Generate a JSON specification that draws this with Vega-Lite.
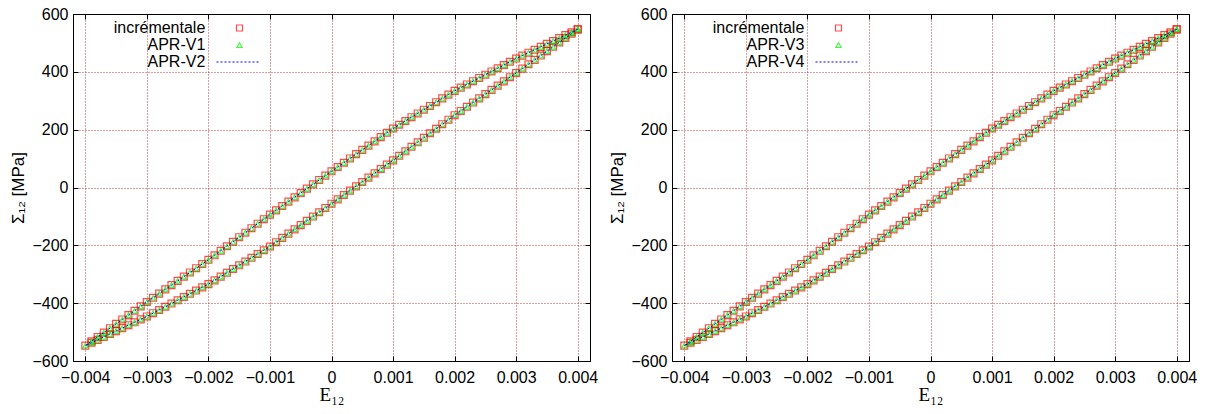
{
  "$schema": "https://vega.github.io/schema/vega-lite/v6.json",
  "padding": {"left": 9, "top": 5, "right": 5, "bottom": 0},
  "config": {
    "font": "Liberation Sans",
    "view": {"stroke": "black", "strokeWidth": 1},
    "axis": {
      "domainColor": "black", "tickColor": "black", "tickWidth": 1,
      "labelFont": "Liberation Sans", "labelFontSize": 16, "labelColor": "black",
      "titleFont": "Liberation Sans", "titleFontSize": 17, "titleColor": "black", "titleFontWeight": "normal",
      "gridColor": "#b82828", "gridDash": [1, 2], "gridOpacity": 0.9, "gridWidth": 1
    },
    "text": {"font": "Liberation Sans", "fontSize": 16, "color": "black"}
  },
  "datasets": {
    "one": [{}],
    "loop": [
      {"i":0,"e":0.004,"s":547},{"i":1,"e":0.0039,"s":536.9},{"i":2,"e":0.0038,"s":526.8},{"i":3,"e":0.0037,"s":516.7},{"i":4,"e":0.0036,"s":506.6},{"i":5,"e":0.0035,"s":496.5},{"i":6,"e":0.0034,"s":486.4},{"i":7,"e":0.0033,"s":476.3},{"i":8,"e":0.0032,"s":466.2},{"i":9,"e":0.0031,"s":456.1},
      {"i":10,"e":0.003,"s":446},{"i":11,"e":0.0029,"s":434.8},{"i":12,"e":0.0028,"s":423.6},{"i":13,"e":0.0027,"s":412.4},{"i":14,"e":0.0026,"s":401.2},{"i":15,"e":0.0025,"s":390},{"i":16,"e":0.0024,"s":378.8},{"i":17,"e":0.0023,"s":367.6},{"i":18,"e":0.0022,"s":356.4},{"i":19,"e":0.0021,"s":345.2},
      {"i":20,"e":0.002,"s":334},{"i":21,"e":0.0019,"s":321},{"i":22,"e":0.0018,"s":308},{"i":23,"e":0.0017,"s":295},{"i":24,"e":0.0016,"s":282},{"i":25,"e":0.0015,"s":269},{"i":26,"e":0.0014,"s":256},{"i":27,"e":0.0013,"s":243},{"i":28,"e":0.0012,"s":230},{"i":29,"e":0.0011,"s":217},
      {"i":30,"e":0.001,"s":204},{"i":31,"e":0.0009,"s":189.2},{"i":32,"e":0.0008,"s":174.4},{"i":33,"e":0.0007,"s":159.6},{"i":34,"e":0.0006,"s":144.8},{"i":35,"e":0.0005,"s":130},{"i":36,"e":0.0004,"s":115.2},{"i":37,"e":0.0003,"s":100.4},{"i":38,"e":0.0002,"s":85.6},{"i":39,"e":0.0001,"s":70.8},
      {"i":40,"e":0,"s":56},{"i":41,"e":-0.0001,"s":41},{"i":42,"e":-0.0002,"s":26},{"i":43,"e":-0.0003,"s":11},{"i":44,"e":-0.0004,"s":-4},{"i":45,"e":-0.0005,"s":-19},{"i":46,"e":-0.0006,"s":-34},{"i":47,"e":-0.0007,"s":-49},{"i":48,"e":-0.0008,"s":-64},{"i":49,"e":-0.0009,"s":-79},
      {"i":50,"e":-0.001,"s":-94},{"i":51,"e":-0.0011,"s":-109.6},{"i":52,"e":-0.0012,"s":-125.2},{"i":53,"e":-0.0013,"s":-140.8},{"i":54,"e":-0.0014,"s":-156.4},{"i":55,"e":-0.0015,"s":-172},{"i":56,"e":-0.0016,"s":-187.6},{"i":57,"e":-0.0017,"s":-203.2},{"i":58,"e":-0.0018,"s":-218.8},{"i":59,"e":-0.0019,"s":-234.4},
      {"i":60,"e":-0.002,"s":-250},{"i":61,"e":-0.0021,"s":-264.6},{"i":62,"e":-0.0022,"s":-279.2},{"i":63,"e":-0.0023,"s":-293.8},{"i":64,"e":-0.0024,"s":-308.4},{"i":65,"e":-0.0025,"s":-323},{"i":66,"e":-0.0026,"s":-337.6},{"i":67,"e":-0.0027,"s":-352.2},{"i":68,"e":-0.0028,"s":-366.8},{"i":69,"e":-0.0029,"s":-381.4},
      {"i":70,"e":-0.003,"s":-396},{"i":71,"e":-0.0031,"s":-411.1},{"i":72,"e":-0.0032,"s":-426.2},{"i":73,"e":-0.0033,"s":-441.3},{"i":74,"e":-0.0034,"s":-456.4},{"i":75,"e":-0.0035,"s":-471.5},{"i":76,"e":-0.0036,"s":-486.6},{"i":77,"e":-0.0037,"s":-501.7},{"i":78,"e":-0.0038,"s":-516.8},{"i":79,"e":-0.0039,"s":-531.9},
      {"i":80,"e":-0.004,"s":-547},
      {"i":81,"e":-0.0039,"s":-536.9},{"i":82,"e":-0.0038,"s":-526.8},{"i":83,"e":-0.0037,"s":-516.7},{"i":84,"e":-0.0036,"s":-506.6},{"i":85,"e":-0.0035,"s":-496.5},{"i":86,"e":-0.0034,"s":-486.4},{"i":87,"e":-0.0033,"s":-476.3},{"i":88,"e":-0.0032,"s":-466.2},{"i":89,"e":-0.0031,"s":-456.1},
      {"i":90,"e":-0.003,"s":-446},{"i":91,"e":-0.0029,"s":-434.8},{"i":92,"e":-0.0028,"s":-423.6},{"i":93,"e":-0.0027,"s":-412.4},{"i":94,"e":-0.0026,"s":-401.2},{"i":95,"e":-0.0025,"s":-390},{"i":96,"e":-0.0024,"s":-378.8},{"i":97,"e":-0.0023,"s":-367.6},{"i":98,"e":-0.0022,"s":-356.4},{"i":99,"e":-0.0021,"s":-345.2},
      {"i":100,"e":-0.002,"s":-334},{"i":101,"e":-0.0019,"s":-321},{"i":102,"e":-0.0018,"s":-308},{"i":103,"e":-0.0017,"s":-295},{"i":104,"e":-0.0016,"s":-282},{"i":105,"e":-0.0015,"s":-269},{"i":106,"e":-0.0014,"s":-256},{"i":107,"e":-0.0013,"s":-243},{"i":108,"e":-0.0012,"s":-230},{"i":109,"e":-0.0011,"s":-217},
      {"i":110,"e":-0.001,"s":-204},{"i":111,"e":-0.0009,"s":-189.2},{"i":112,"e":-0.0008,"s":-174.4},{"i":113,"e":-0.0007,"s":-159.6},{"i":114,"e":-0.0006,"s":-144.8},{"i":115,"e":-0.0005,"s":-130},{"i":116,"e":-0.0004,"s":-115.2},{"i":117,"e":-0.0003,"s":-100.4},{"i":118,"e":-0.0002,"s":-85.6},{"i":119,"e":-0.0001,"s":-70.8},
      {"i":120,"e":0,"s":-56},{"i":121,"e":0.0001,"s":-41},{"i":122,"e":0.0002,"s":-26},{"i":123,"e":0.0003,"s":-11},{"i":124,"e":0.0004,"s":4},{"i":125,"e":0.0005,"s":19},{"i":126,"e":0.0006,"s":34},{"i":127,"e":0.0007,"s":49},{"i":128,"e":0.0008,"s":64},{"i":129,"e":0.0009,"s":79},
      {"i":130,"e":0.001,"s":94},{"i":131,"e":0.0011,"s":109.6},{"i":132,"e":0.0012,"s":125.2},{"i":133,"e":0.0013,"s":140.8},{"i":134,"e":0.0014,"s":156.4},{"i":135,"e":0.0015,"s":172},{"i":136,"e":0.0016,"s":187.6},{"i":137,"e":0.0017,"s":203.2},{"i":138,"e":0.0018,"s":218.8},{"i":139,"e":0.0019,"s":234.4},
      {"i":140,"e":0.002,"s":250},{"i":141,"e":0.0021,"s":264.6},{"i":142,"e":0.0022,"s":279.2},{"i":143,"e":0.0023,"s":293.8},{"i":144,"e":0.0024,"s":308.4},{"i":145,"e":0.0025,"s":323},{"i":146,"e":0.0026,"s":337.6},{"i":147,"e":0.0027,"s":352.2},{"i":148,"e":0.0028,"s":366.8},{"i":149,"e":0.0029,"s":381.4},
      {"i":150,"e":0.003,"s":396},{"i":151,"e":0.0031,"s":411.1},{"i":152,"e":0.0032,"s":426.2},{"i":153,"e":0.0033,"s":441.3},{"i":154,"e":0.0034,"s":456.4},{"i":155,"e":0.0035,"s":471.5},{"i":156,"e":0.0036,"s":486.6},{"i":157,"e":0.0037,"s":501.7},{"i":158,"e":0.0038,"s":516.8},{"i":159,"e":0.0039,"s":531.9},
      {"i":160,"e":0.004,"s":547}
    ]
  },
  "spacing": 9,
  "hconcat": [
    {
      "width": 517, "height": 347,
      "resolve": {"axis": {"x": "independent", "y": "independent"}},
      "layer": [
        {
          "data": {"name": "loop"},
          "mark": {"type": "point", "shape": "square", "filled": false, "size": 48, "strokeWidth": 1.2, "color": "#ff0000"},
          "encoding": {
            "x": {"field": "e", "type": "quantitative", "scale": {"domain": [-0.0042, 0.0042], "nice": false, "zero": false},
              "axis": {"orient": "bottom", "title": "E₁₂", "titleFont": "Liberation Serif", "titleFontSize": 19, "values": [-0.004, -0.003, -0.002, -0.001, 0, 0.001, 0.002, 0.003, 0.004], "format": ".3~f", "grid": true, "tickSize": -5, "labelPadding": 13, "titlePadding": 0, "labelFlush": false}},
            "y": {"field": "s", "type": "quantitative", "scale": {"domain": [-600, 600], "nice": false, "zero": false},
              "axis": {"orient": "left", "title": "Σ₁₂ [MPa]", "titleFont": "Liberation Sans", "titleFontSize": 17, "values": [-600, -400, -200, 0, 200, 400, 600], "format": "d", "grid": true, "tickSize": -5, "labelPadding": 10, "titlePadding": 4, "labelFlush": false}}
          }
        },
        {
          "data": {"name": "loop"},
          "mark": {"type": "point", "shape": "triangle-up", "filled": false, "size": 28, "strokeWidth": 1.2, "color": "#00f000"},
          "encoding": {
            "x": {"field": "e", "type": "quantitative", "axis": {"orient": "top", "title": null, "labels": false, "grid": false, "tickSize": -5, "values": [-0.004, -0.003, -0.002, -0.001, 0, 0.001, 0.002, 0.003, 0.004]}},
            "y": {"field": "s", "type": "quantitative", "axis": {"orient": "right", "title": null, "labels": false, "grid": false, "tickSize": -5, "values": [-600, -400, -200, 0, 200, 400, 600]}}
          }
        },
        {
          "data": {"name": "loop"},
          "mark": {"type": "line", "color": "#0000ff", "strokeDash": [2, 2], "strokeWidth": 1},
          "encoding": {
            "x": {"field": "e", "type": "quantitative", "axis": null},
            "y": {"field": "s", "type": "quantitative", "axis": null},
            "order": {"field": "i", "type": "quantitative"}
          }
        },
        {
          "data": {"name": "one"},
          "mark": {"type": "text", "align": "right", "baseline": "middle"},
          "encoding": {"x": {"datum": -0.00205, "type": "quantitative", "axis": null}, "y": {"datum": 551.6, "type": "quantitative", "axis": null}, "text": {"value": "incrémentale"}}
        },
        {
          "data": {"name": "one"},
          "mark": {"type": "text", "align": "right", "baseline": "middle"},
          "encoding": {"x": {"datum": -0.00205, "type": "quantitative", "axis": null}, "y": {"datum": 492.8, "type": "quantitative", "axis": null}, "text": {"value": "APR-V1"}}
        },
        {
          "data": {"name": "one"},
          "mark": {"type": "text", "align": "right", "baseline": "middle"},
          "encoding": {"x": {"datum": -0.00205, "type": "quantitative", "axis": null}, "y": {"datum": 434, "type": "quantitative", "axis": null}, "text": {"value": "APR-V2"}}
        },
        {
          "data": {"name": "one"},
          "mark": {"type": "point", "shape": "square", "filled": false, "size": 36, "strokeWidth": 1.2, "color": "#ff0000"},
          "encoding": {"x": {"datum": -0.001495, "type": "quantitative", "axis": null}, "y": {"datum": 551.6, "type": "quantitative", "axis": null}}
        },
        {
          "data": {"name": "one"},
          "mark": {"type": "point", "shape": "triangle-up", "filled": false, "size": 28, "strokeWidth": 1.2, "color": "#00f000"},
          "encoding": {"x": {"datum": -0.001495, "type": "quantitative", "axis": null}, "y": {"datum": 492.8, "type": "quantitative", "axis": null}}
        },
        {
          "data": {"name": "one"},
          "mark": {"type": "rule", "color": "#0000ff", "strokeDash": [2, 2], "strokeWidth": 1},
          "encoding": {"x": {"datum": -0.001868, "type": "quantitative", "axis": null}, "x2": {"datum": -0.001154}, "y": {"datum": 434, "type": "quantitative", "axis": null}}
        }
      ]
    },
    {
      "width": 517, "height": 347,
      "resolve": {"axis": {"x": "independent", "y": "independent"}},
      "layer": [
        {
          "data": {"name": "loop"},
          "mark": {"type": "point", "shape": "square", "filled": false, "size": 48, "strokeWidth": 1.2, "color": "#ff0000"},
          "encoding": {
            "x": {"field": "e", "type": "quantitative", "scale": {"domain": [-0.0042, 0.0042], "nice": false, "zero": false},
              "axis": {"orient": "bottom", "title": "E₁₂", "titleFont": "Liberation Serif", "titleFontSize": 19, "values": [-0.004, -0.003, -0.002, -0.001, 0, 0.001, 0.002, 0.003, 0.004], "format": ".3~f", "grid": true, "tickSize": -5, "labelPadding": 13, "titlePadding": 0, "labelFlush": false}},
            "y": {"field": "s", "type": "quantitative", "scale": {"domain": [-600, 600], "nice": false, "zero": false},
              "axis": {"orient": "left", "title": "Σ₁₂ [MPa]", "titleFont": "Liberation Sans", "titleFontSize": 17, "values": [-600, -400, -200, 0, 200, 400, 600], "format": "d", "grid": true, "tickSize": -5, "labelPadding": 10, "titlePadding": 4, "labelFlush": false}}
          }
        },
        {
          "data": {"name": "loop"},
          "mark": {"type": "point", "shape": "triangle-up", "filled": false, "size": 28, "strokeWidth": 1.2, "color": "#00f000"},
          "encoding": {
            "x": {"field": "e", "type": "quantitative", "axis": {"orient": "top", "title": null, "labels": false, "grid": false, "tickSize": -5, "values": [-0.004, -0.003, -0.002, -0.001, 0, 0.001, 0.002, 0.003, 0.004]}},
            "y": {"field": "s", "type": "quantitative", "axis": {"orient": "right", "title": null, "labels": false, "grid": false, "tickSize": -5, "values": [-600, -400, -200, 0, 200, 400, 600]}}
          }
        },
        {
          "data": {"name": "loop"},
          "mark": {"type": "line", "color": "#0000ff", "strokeDash": [2, 2], "strokeWidth": 1},
          "encoding": {
            "x": {"field": "e", "type": "quantitative", "axis": null},
            "y": {"field": "s", "type": "quantitative", "axis": null},
            "order": {"field": "i", "type": "quantitative"}
          }
        },
        {
          "data": {"name": "one"},
          "mark": {"type": "text", "align": "right", "baseline": "middle"},
          "encoding": {"x": {"datum": -0.00205, "type": "quantitative", "axis": null}, "y": {"datum": 551.6, "type": "quantitative", "axis": null}, "text": {"value": "incrémentale"}}
        },
        {
          "data": {"name": "one"},
          "mark": {"type": "text", "align": "right", "baseline": "middle"},
          "encoding": {"x": {"datum": -0.00205, "type": "quantitative", "axis": null}, "y": {"datum": 492.8, "type": "quantitative", "axis": null}, "text": {"value": "APR-V3"}}
        },
        {
          "data": {"name": "one"},
          "mark": {"type": "text", "align": "right", "baseline": "middle"},
          "encoding": {"x": {"datum": -0.00205, "type": "quantitative", "axis": null}, "y": {"datum": 434, "type": "quantitative", "axis": null}, "text": {"value": "APR-V4"}}
        },
        {
          "data": {"name": "one"},
          "mark": {"type": "point", "shape": "square", "filled": false, "size": 36, "strokeWidth": 1.2, "color": "#ff0000"},
          "encoding": {"x": {"datum": -0.001495, "type": "quantitative", "axis": null}, "y": {"datum": 551.6, "type": "quantitative", "axis": null}}
        },
        {
          "data": {"name": "one"},
          "mark": {"type": "point", "shape": "triangle-up", "filled": false, "size": 28, "strokeWidth": 1.2, "color": "#00f000"},
          "encoding": {"x": {"datum": -0.001495, "type": "quantitative", "axis": null}, "y": {"datum": 492.8, "type": "quantitative", "axis": null}}
        },
        {
          "data": {"name": "one"},
          "mark": {"type": "rule", "color": "#0000ff", "strokeDash": [2, 2], "strokeWidth": 1},
          "encoding": {"x": {"datum": -0.001868, "type": "quantitative", "axis": null}, "x2": {"datum": -0.001154}, "y": {"datum": 434, "type": "quantitative", "axis": null}}
        }
      ]
    }
  ]
}
